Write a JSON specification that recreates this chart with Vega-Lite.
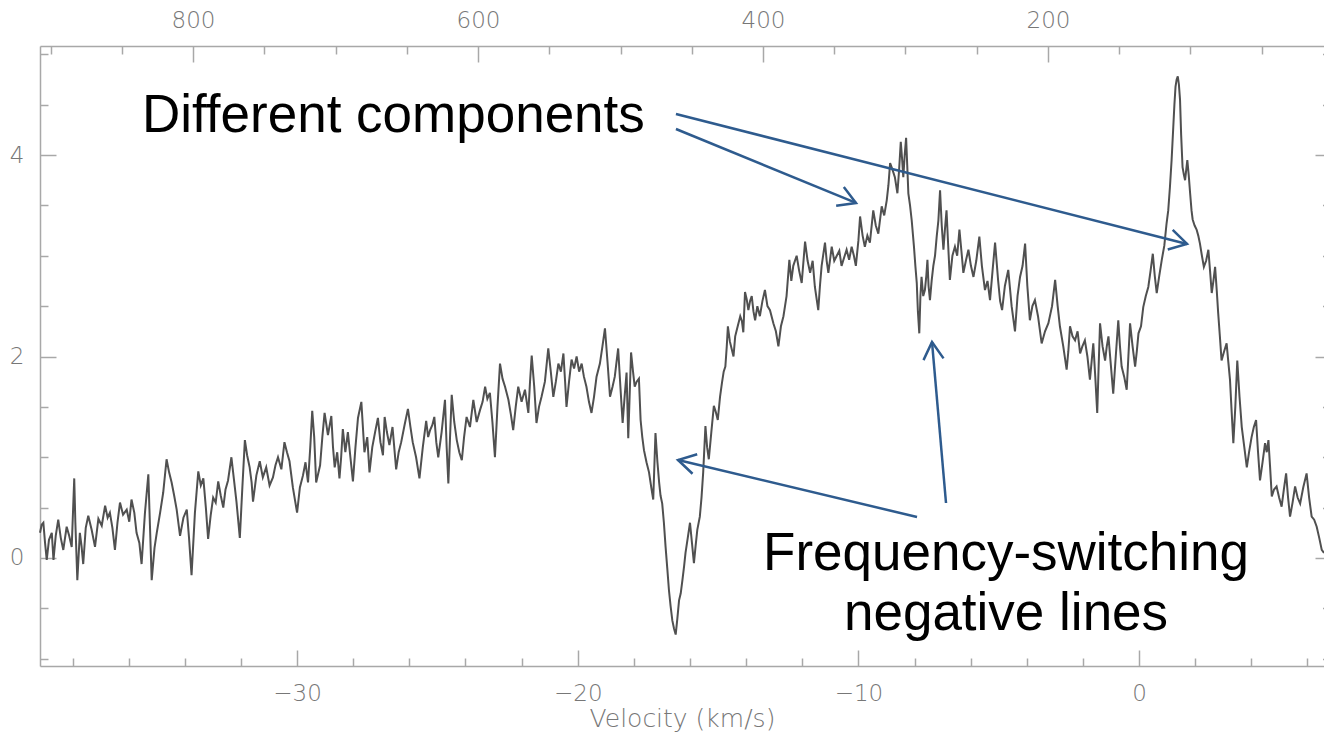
{
  "$schema": "https://vega.github.io/schema/vega-lite/v6.json",
  "width": 1284,
  "height": 620,
  "autosize": {"type": "none"},
  "padding": {"left": 40, "top": 46, "right": 0, "bottom": 68},
  "background": "white",
  "config": {
    "view": {"stroke": null},
    "axis": {
      "grid": false,
      "domainColor": "#a8a8a8",
      "domainWidth": 1.5,
      "tickColor": "#a8a8a8",
      "tickWidth": 1.5,
      "labelFont": "DejaVu Sans",
      "labelFontSize": 23,
      "labelFontWeight": 200,
      "labelColor": "#777777",
      "labelOverlap": false,
      "labelFlush": false,
      "titleFont": "DejaVu Sans",
      "titleFontSize": 25,
      "titleFontWeight": 200,
      "titleColor": "#777777"
    }
  },
  "datasets": {
    "spectrum": [
      {"v":-39.16,"y":0.25},{"v":-39.10,"y":0.33},{"v":-39.04,"y":0.35},{"v":-38.98,"y":0.15},{"v":-38.92,"y":-0.02},{"v":-38.84,"y":0.18},{"v":-38.74,"y":0.25},{"v":-38.68,"y":-0.02},{"v":-38.60,"y":0.22},{"v":-38.51,"y":0.38},{"v":-38.42,"y":0.20},{"v":-38.33,"y":0.08},{"v":-38.21,"y":0.31},{"v":-38.12,"y":0.22},{"v":-38.03,"y":0.11},{"v":-37.94,"y":0.79},{"v":-37.90,"y":0.35},{"v":-37.83,"y":-0.22},{"v":-37.74,"y":0.25},{"v":-37.68,"y":0.12},{"v":-37.62,"y":-0.06},{"v":-37.53,"y":0.30},{"v":-37.44,"y":0.42},{"v":-37.32,"y":0.28},{"v":-37.20,"y":0.11},{"v":-37.08,"y":0.39},{"v":-36.96,"y":0.32},{"v":-36.84,"y":0.52},{"v":-36.75,"y":0.40},{"v":-36.67,"y":0.45},{"v":-36.58,"y":0.30},{"v":-36.49,"y":0.08},{"v":-36.40,"y":0.35},{"v":-36.31,"y":0.55},{"v":-36.20,"y":0.43},{"v":-36.07,"y":0.48},{"v":-35.98,"y":0.36},{"v":-35.90,"y":0.58},{"v":-35.80,"y":0.45},{"v":-35.72,"y":0.25},{"v":-35.62,"y":0.15},{"v":-35.54,"y":-0.06},{"v":-35.42,"y":0.45},{"v":-35.30,"y":0.83},{"v":-35.24,"y":0.30},{"v":-35.18,"y":-0.22},{"v":-35.08,"y":0.10},{"v":-35.00,"y":0.25},{"v":-34.88,"y":0.45},{"v":-34.77,"y":0.65},{"v":-34.65,"y":0.98},{"v":-34.56,"y":0.85},{"v":-34.47,"y":0.75},{"v":-34.38,"y":0.62},{"v":-34.29,"y":0.48},{"v":-34.17,"y":0.22},{"v":-34.05,"y":0.40},{"v":-33.93,"y":0.48},{"v":-33.85,"y":0.20},{"v":-33.76,"y":-0.17},{"v":-33.64,"y":0.45},{"v":-33.52,"y":0.86},{"v":-33.43,"y":0.72},{"v":-33.34,"y":0.79},{"v":-33.25,"y":0.50},{"v":-33.17,"y":0.19},{"v":-33.08,"y":0.42},{"v":-32.99,"y":0.60},{"v":-32.90,"y":0.55},{"v":-32.81,"y":0.76},{"v":-32.72,"y":0.62},{"v":-32.63,"y":0.50},{"v":-32.55,"y":0.68},{"v":-32.46,"y":0.77},{"v":-32.34,"y":1.00},{"v":-32.25,"y":0.78},{"v":-32.16,"y":0.56},{"v":-32.04,"y":0.20},{"v":-31.95,"y":0.70},{"v":-31.86,"y":1.17},{"v":-31.78,"y":1.02},{"v":-31.69,"y":0.90},{"v":-31.62,"y":0.75},{"v":-31.57,"y":0.56},{"v":-31.45,"y":0.82},{"v":-31.33,"y":0.96},{"v":-31.22,"y":0.80},{"v":-31.10,"y":0.90},{"v":-30.98,"y":0.72},{"v":-30.86,"y":0.80},{"v":-30.77,"y":0.92},{"v":-30.68,"y":1.00},{"v":-30.56,"y":0.88},{"v":-30.45,"y":1.15},{"v":-30.36,"y":1.05},{"v":-30.27,"y":0.96},{"v":-30.15,"y":0.70},{"v":-30.00,"y":0.45},{"v":-29.90,"y":0.70},{"v":-29.79,"y":0.82},{"v":-29.70,"y":0.95},{"v":-29.61,"y":0.75},{"v":-29.53,"y":1.10},{"v":-29.46,"y":1.46},{"v":-29.39,"y":1.20},{"v":-29.32,"y":0.75},{"v":-29.18,"y":0.92},{"v":-29.10,"y":1.20},{"v":-29.02,"y":1.44},{"v":-28.90,"y":1.22},{"v":-28.78,"y":1.41},{"v":-28.72,"y":1.10},{"v":-28.66,"y":0.90},{"v":-28.57,"y":1.05},{"v":-28.49,"y":0.79},{"v":-28.43,"y":1.00},{"v":-28.37,"y":1.28},{"v":-28.28,"y":1.05},{"v":-28.19,"y":1.25},{"v":-28.10,"y":1.00},{"v":-28.01,"y":0.76},{"v":-27.92,"y":1.10},{"v":-27.83,"y":1.39},{"v":-27.71,"y":1.55},{"v":-27.60,"y":1.05},{"v":-27.50,"y":1.20},{"v":-27.42,"y":0.85},{"v":-27.32,"y":1.10},{"v":-27.22,"y":1.25},{"v":-27.12,"y":1.39},{"v":-27.03,"y":1.15},{"v":-26.94,"y":1.02},{"v":-26.88,"y":1.40},{"v":-26.80,"y":1.25},{"v":-26.71,"y":1.12},{"v":-26.60,"y":1.30},{"v":-26.47,"y":0.88},{"v":-26.38,"y":1.05},{"v":-26.29,"y":1.15},{"v":-26.17,"y":1.32},{"v":-26.05,"y":1.48},{"v":-25.96,"y":1.30},{"v":-25.88,"y":1.15},{"v":-25.76,"y":1.00},{"v":-25.64,"y":0.79},{"v":-25.52,"y":1.10},{"v":-25.40,"y":1.36},{"v":-25.33,"y":1.20},{"v":-25.26,"y":1.27},{"v":-25.18,"y":1.32},{"v":-25.11,"y":1.40},{"v":-25.04,"y":1.15},
      {"v":-24.97,"y":1.00},{"v":-24.85,"y":1.25},{"v":-24.73,"y":1.57},{"v":-24.67,"y":1.10},{"v":-24.61,"y":0.74},{"v":-24.55,"y":1.20},{"v":-24.49,"y":1.62},{"v":-24.40,"y":1.35},{"v":-24.31,"y":1.17},{"v":-24.22,"y":1.05},{"v":-24.13,"y":0.97},{"v":-24.05,"y":1.20},{"v":-23.96,"y":1.40},{"v":-23.84,"y":1.30},{"v":-23.72,"y":1.57},{"v":-23.60,"y":1.35},{"v":-23.48,"y":1.47},{"v":-23.39,"y":1.55},{"v":-23.30,"y":1.70},{"v":-23.22,"y":1.58},{"v":-23.13,"y":1.64},{"v":-23.04,"y":1.35},{"v":-22.95,"y":1.00},{"v":-22.86,"y":1.50},{"v":-22.77,"y":1.93},{"v":-22.68,"y":1.78},{"v":-22.59,"y":1.70},{"v":-22.47,"y":1.57},{"v":-22.38,"y":1.42},{"v":-22.30,"y":1.27},{"v":-22.21,"y":1.50},{"v":-22.12,"y":1.70},{"v":-22.00,"y":1.55},{"v":-21.88,"y":1.67},{"v":-21.76,"y":1.44},{"v":-21.70,"y":1.75},{"v":-21.64,"y":2.01},{"v":-21.55,"y":1.70},{"v":-21.47,"y":1.34},{"v":-21.38,"y":1.50},{"v":-21.29,"y":1.60},{"v":-21.17,"y":1.75},{"v":-21.05,"y":2.08},{"v":-20.96,"y":1.85},{"v":-20.87,"y":1.60},{"v":-20.78,"y":1.75},{"v":-20.69,"y":1.93},{"v":-20.60,"y":1.85},{"v":-20.51,"y":2.03},{"v":-20.45,"y":1.75},{"v":-20.40,"y":1.50},{"v":-20.31,"y":1.75},{"v":-20.22,"y":1.97},{"v":-20.13,"y":1.88},{"v":-20.04,"y":2.00},{"v":-19.95,"y":1.85},{"v":-19.86,"y":1.93},{"v":-19.78,"y":1.80},{"v":-19.69,"y":1.70},{"v":-19.60,"y":1.55},{"v":-19.51,"y":1.44},{"v":-19.42,"y":1.60},{"v":-19.33,"y":1.80},{"v":-19.21,"y":1.93},{"v":-19.12,"y":2.10},{"v":-19.03,"y":2.28},{"v":-18.94,"y":1.95},{"v":-18.85,"y":1.60},{"v":-18.76,"y":1.70},{"v":-18.68,"y":1.80},{"v":-18.56,"y":2.08},{"v":-18.48,"y":1.70},{"v":-18.40,"y":1.34},{"v":-18.33,"y":1.60},{"v":-18.26,"y":1.84},{"v":-18.20,"y":1.19},{"v":-18.10,"y":2.04},{"v":-18.03,"y":1.85},{"v":-17.97,"y":1.70},{"v":-17.90,"y":1.75},{"v":-17.82,"y":1.78},{"v":-17.76,"y":1.37},{"v":-17.70,"y":1.20},{"v":-17.64,"y":1.07},{"v":-17.55,"y":0.95},{"v":-17.46,"y":0.85},{"v":-17.38,"y":0.70},{"v":-17.31,"y":0.58},{"v":-17.23,"y":1.24},{"v":-17.16,"y":0.95},{"v":-17.10,"y":0.75},{"v":-17.05,"y":0.62},{"v":-16.99,"y":0.54},{"v":-16.93,"y":0.35},{"v":-16.87,"y":0.11},{"v":-16.81,"y":-0.10},{"v":-16.75,"y":-0.32},{"v":-16.69,"y":-0.48},{"v":-16.63,"y":-0.62},{"v":-16.57,"y":-0.70},{"v":-16.51,"y":-0.76},{"v":-16.45,"y":-0.60},{"v":-16.39,"y":-0.42},{"v":-16.33,"y":-0.35},{"v":-16.27,"y":-0.22},{"v":-16.21,"y":-0.08},{"v":-16.16,"y":0.05},{"v":-16.08,"y":0.20},{"v":-16.00,"y":0.35},{"v":-15.93,"y":0.15},{"v":-15.86,"y":-0.05},{"v":-15.80,"y":0.12},{"v":-15.74,"y":0.28},{"v":-15.65,"y":0.41},{"v":-15.59,"y":0.60},{"v":-15.53,"y":0.85},{"v":-15.45,"y":1.31},{"v":-15.39,"y":1.10},{"v":-15.33,"y":0.98},{"v":-15.24,"y":1.25},{"v":-15.15,"y":1.51},{"v":-15.08,"y":1.45},{"v":-15.01,"y":1.37},{"v":-14.93,"y":1.60},{"v":-14.86,"y":1.74},{"v":-14.80,"y":1.85},{"v":-14.74,"y":1.90},{"v":-14.69,"y":2.10},{"v":-14.65,"y":2.30},{"v":-14.58,"y":2.15},{"v":-14.51,"y":2.07},{"v":-14.45,"y":2.00},{"v":-14.39,"y":2.20},{"v":-14.30,"y":2.30},{"v":-14.21,"y":2.40},{"v":-14.15,"y":2.35},{"v":-14.10,"y":2.24},{"v":-14.04,"y":2.64},{"v":-13.98,"y":2.57},
      {"v":-13.92,"y":2.46},{"v":-13.86,"y":2.55},{"v":-13.80,"y":2.60},{"v":-13.74,"y":2.45},{"v":-13.68,"y":2.36},{"v":-13.60,"y":2.50},{"v":-13.51,"y":2.40},{"v":-13.42,"y":2.55},{"v":-13.33,"y":2.66},{"v":-13.24,"y":2.50},{"v":-13.15,"y":2.46},{"v":-13.03,"y":2.33},{"v":-12.94,"y":2.25},{"v":-12.85,"y":2.10},{"v":-12.76,"y":2.30},{"v":-12.67,"y":2.40},{"v":-12.56,"y":2.60},{"v":-12.46,"y":2.96},{"v":-12.39,"y":2.75},{"v":-12.32,"y":2.90},{"v":-12.20,"y":3.00},{"v":-12.11,"y":2.85},{"v":-12.02,"y":2.73},{"v":-11.90,"y":3.14},{"v":-11.81,"y":2.95},{"v":-11.72,"y":2.83},{"v":-11.63,"y":2.95},{"v":-11.55,"y":2.69},{"v":-11.43,"y":2.46},{"v":-11.37,"y":2.70},{"v":-11.31,"y":2.90},{"v":-11.19,"y":3.13},{"v":-11.13,"y":2.95},{"v":-11.07,"y":2.83},{"v":-10.95,"y":3.09},{"v":-10.86,"y":2.95},{"v":-10.77,"y":3.00},{"v":-10.68,"y":3.05},{"v":-10.60,"y":2.90},{"v":-10.51,"y":2.98},{"v":-10.42,"y":3.06},{"v":-10.33,"y":2.96},{"v":-10.24,"y":3.09},{"v":-10.16,"y":3.00},{"v":-10.09,"y":2.90},{"v":-10.00,"y":3.15},{"v":-9.94,"y":3.39},{"v":-9.85,"y":3.20},{"v":-9.77,"y":3.09},{"v":-9.68,"y":3.20},{"v":-9.59,"y":3.13},{"v":-9.47,"y":3.45},{"v":-9.38,"y":3.30},{"v":-9.29,"y":3.22},{"v":-9.17,"y":3.49},{"v":-9.08,"y":3.40},{"v":-8.99,"y":3.55},{"v":-8.93,"y":3.70},{"v":-8.87,"y":3.92},{"v":-8.78,"y":3.85},{"v":-8.70,"y":3.78},{"v":-8.61,"y":3.62},{"v":-8.55,"y":3.85},{"v":-8.49,"y":4.13},{"v":-8.44,"y":3.95},{"v":-8.40,"y":3.78},{"v":-8.35,"y":4.00},{"v":-8.30,"y":4.17},{"v":-8.26,"y":3.90},{"v":-8.22,"y":3.62},{"v":-8.16,"y":3.50},{"v":-8.10,"y":3.35},{"v":-8.02,"y":3.09},{"v":-7.97,"y":2.90},{"v":-7.92,"y":2.73},{"v":-7.88,"y":2.45},{"v":-7.83,"y":2.23},{"v":-7.79,"y":2.60},{"v":-7.75,"y":2.79},{"v":-7.69,"y":2.60},{"v":-7.63,"y":2.66},{"v":-7.58,"y":2.80},{"v":-7.54,"y":2.96},{"v":-7.50,"y":2.70},{"v":-7.45,"y":2.56},{"v":-7.39,"y":2.75},{"v":-7.33,"y":2.90},{"v":-7.27,"y":3.00},{"v":-7.21,"y":3.19},{"v":-7.15,"y":3.35},{"v":-7.09,"y":3.65},{"v":-7.03,"y":3.30},{"v":-6.97,"y":3.06},{"v":-6.92,"y":3.25},{"v":-6.86,"y":3.45},{"v":-6.80,"y":3.10},{"v":-6.74,"y":2.76},{"v":-6.65,"y":3.00},{"v":-6.56,"y":3.09},{"v":-6.48,"y":3.00},{"v":-6.40,"y":3.26},{"v":-6.33,"y":3.05},{"v":-6.26,"y":2.83},{"v":-6.17,"y":2.95},{"v":-6.08,"y":3.06},{"v":-5.99,"y":2.90},{"v":-5.90,"y":2.79},{"v":-5.80,"y":2.95},{"v":-5.69,"y":3.19},{"v":-5.60,"y":2.90},{"v":-5.49,"y":2.66},{"v":-5.40,"y":2.75},{"v":-5.31,"y":2.56},{"v":-5.22,"y":2.85},{"v":-5.13,"y":3.13},{"v":-5.02,"y":2.75},{"v":-4.95,"y":2.55},{"v":-4.88,"y":2.46},{"v":-4.78,"y":2.70},{"v":-4.66,"y":2.86},{"v":-4.54,"y":2.50},{"v":-4.42,"y":2.25},{"v":-4.33,"y":2.60},{"v":-4.24,"y":2.79},{"v":-4.15,"y":2.90},{"v":-4.06,"y":3.12},{"v":-3.98,"y":2.70},{"v":-3.89,"y":2.36},{"v":-3.80,"y":2.50},{"v":-3.71,"y":2.56},{"v":-3.60,"y":2.40},{"v":-3.47,"y":2.13},{"v":-3.35,"y":2.25},{"v":-3.23,"y":2.33},{"v":-3.10,"y":2.50},{"v":-2.99,"y":2.76},{"v":-2.90,"y":2.50},{"v":-2.82,"y":2.30},{"v":-2.70,"y":2.10},{"v":-2.58,"y":1.87},{"v":-2.52,"y":2.05},{"v":-2.46,"y":2.30},{"v":-2.37,"y":2.20},{"v":-2.28,"y":2.16},{"v":-2.19,"y":2.25},{"v":-2.10,"y":2.03},{"v":-2.02,"y":2.10},{"v":-1.93,"y":2.16},{"v":-1.84,"y":2.00},{"v":-1.75,"y":1.77},{"v":-1.69,"y":1.95},{"v":-1.63,"y":2.13},{"v":-1.56,"y":1.80},{"v":-1.49,"y":1.44},{"v":-1.44,"y":1.90},{"v":-1.39,"y":2.33},{"v":-1.30,"y":2.10},{"v":-1.21,"y":1.96},{"v":-1.15,"y":2.10},{"v":-1.09,"y":2.20},{"v":-1.00,"y":1.90},{"v":-0.92,"y":1.63},{"v":-0.83,"y":2.00},{"v":-0.74,"y":2.36},{"v":-0.68,"y":2.10},{"v":-0.62,"y":1.90},{"v":-0.53,"y":1.80},{"v":-0.44,"y":1.67},{"v":-0.38,"y":2.00},{"v":-0.32,"y":2.33},{"v":-0.23,"y":2.10},{"v":-0.14,"y":1.90},{"v":-0.08,"y":2.05},{"v":-0.02,"y":2.23},{"v":0.07,"y":2.30},{"v":0.15,"y":2.49},{"v":0.24,"y":2.60},{"v":0.33,"y":2.69},{"v":0.41,"y":2.85},{"v":0.49,"y":3.02},{"v":0.56,"y":2.80},{"v":0.63,"y":2.63},{"v":0.72,"y":2.80},{"v":0.81,"y":2.96},{"v":0.90,"y":3.10},{"v":0.98,"y":3.32},{"v":1.04,"y":3.45},{"v":1.10,"y":3.68},{"v":1.16,"y":3.95},{"v":1.22,"y":4.28},{"v":1.26,"y":4.50},{"v":1.30,"y":4.68},{"v":1.34,"y":4.75},{"v":1.38,"y":4.78},{"v":1.42,"y":4.70},{"v":1.46,"y":4.55},{"v":1.50,"y":4.20},{"v":1.55,"y":3.88},{"v":1.60,"y":3.80},{"v":1.64,"y":3.75},{"v":1.68,"y":3.85},{"v":1.72,"y":3.95},{"v":1.77,"y":3.80},{"v":1.82,"y":3.62},{"v":1.87,"y":3.45},{"v":1.91,"y":3.36},{"v":1.98,"y":3.30},{"v":2.05,"y":3.26},{"v":2.11,"y":3.20},{"v":2.17,"y":3.12},{"v":2.24,"y":3.00},{"v":2.31,"y":2.89},{"v":2.39,"y":2.95},{"v":2.47,"y":3.06},{"v":2.53,"y":2.85},{"v":2.59,"y":2.63},{"v":2.65,"y":2.75},{"v":2.71,"y":2.89},{"v":2.77,"y":2.65},{"v":2.82,"y":2.43},{"v":2.88,"y":2.20},{"v":2.94,"y":1.96},{"v":3.03,"y":2.05},{"v":3.12,"y":2.13},{"v":3.18,"y":1.95},{"v":3.24,"y":1.77},{"v":3.30,"y":1.45},{"v":3.36,"y":1.14},{"v":3.43,"y":1.50},{"v":3.50,"y":1.96},{"v":3.58,"y":1.60},{"v":3.66,"y":1.30},{"v":3.75,"y":1.10},{"v":3.84,"y":0.90},{"v":3.92,"y":1.05},{"v":4.01,"y":1.20},{"v":4.09,"y":1.30},{"v":4.17,"y":1.37},{"v":4.24,"y":1.05},{"v":4.31,"y":0.77},{"v":4.40,"y":0.95},{"v":4.49,"y":1.14},{"v":4.55,"y":1.05},{"v":4.61,"y":1.17},{"v":4.67,"y":0.90},{"v":4.73,"y":0.61},{"v":4.81,"y":0.68},{"v":4.90,"y":0.71},{"v":4.99,"y":0.60},{"v":5.08,"y":0.51},{"v":5.16,"y":0.68},{"v":5.24,"y":0.84},{"v":5.31,"y":0.60},{"v":5.38,"y":0.41},{"v":5.47,"y":0.55},{"v":5.56,"y":0.71},{"v":5.65,"y":0.60},{"v":5.74,"y":0.54},{"v":5.85,"y":0.70},{"v":5.97,"y":0.84},{"v":6.06,"y":0.60},{"v":6.15,"y":0.41},{"v":6.24,"y":0.38},{"v":6.33,"y":0.31},{"v":6.42,"y":0.20},{"v":6.51,"y":0.08},{"v":6.59,"y":0.05}
    ],
    "arrows": [
      {"id": "a", "v": -16.50, "y": 4.258, "v2": -10.085, "y2": 3.524},
      {"id": "b", "v": -16.50, "y": 4.407, "v2": 1.709, "y2": 3.117},
      {"id": "c", "v": -7.911, "y": 0.407, "v2": -16.427, "y2": 0.973},
      {"id": "d", "v": -6.878, "y": 0.546, "v2": -7.377, "y2": 2.144}
    ],
    "notes": [
      {"v": -35.525, "y": 4.228, "text": "Different components"}
    ],
    "notes2": [
      {"v": -4.74, "y": -0.119, "text": ["Frequency-switching", "negative lines"]}
    ],
    "frame": [
      {"ch": 500, "y": 2}
    ]
  },
  "layer": [
    {
      "layer": [
        {
          "data": {"name": "spectrum"},
          "mark": {"type": "line", "color": "#505050", "strokeWidth": 2, "interpolate": "linear"},
          "encoding": {
            "x": {
              "field": "v", "type": "quantitative",
              "scale": {"domain": [-39.16, 6.59], "nice": false, "zero": false},
              "axis": {
                "orient": "bottom",
                "title": "Velocity (km/s)",
                "values": [-38, -36, -34, -32, -30, -28, -26, -24, -22, -20, -18, -16, -14, -12, -10, -8, -6, -4, -2, 0, 2, 4, 6],
                "tickSize": {"condition": {"test": "datum.value % 10 === 0", "value": -16}, "value": -8},
                "labelExpr": "datum.value % 10 === 0 ? datum.label : ''",
                "labelPadding": 43,
                "labelBaseline": "middle",
                "titleY": 52,
                "titleBaseline": "middle"
              }
            },
            "y": {
              "field": "y", "type": "quantitative",
              "scale": {"domain": [-1.072, 5.082], "nice": false, "zero": false},
              "axis": {
                "orient": "left",
                "title": null,
                "values": [-1, -0.5, 0, 0.5, 1, 1.5, 2, 2.5, 3, 3.5, 4, 4.5, 5],
                "tickSize": {"condition": {"test": "datum.value % 2 === 0", "value": -16}, "value": -8},
                "labelExpr": "datum.value % 2 === 0 ? format(datum.value, 'd') : ''",
                "labelPadding": 32,
                "labelBaseline": "middle"
              }
            }
          }
        },
        {
          "data": {"name": "arrows"},
          "mark": {"type": "rule", "color": "#2E5B8E", "strokeWidth": 2.5},
          "encoding": {
            "x": {"field": "v", "type": "quantitative"},
            "y": {"field": "y", "type": "quantitative"},
            "x2": {"field": "v2"},
            "y2": {"field": "y2"}
          }
        },
        {
          "data": {"name": "arrows"},
          "transform": [{"filter": "datum.id === 'a'"}],
          "mark": {"type": "point", "shape": "M-1,-0.58L0,0L-1,0.58", "size": 1200, "filled": false, "stroke": "#2E5B8E", "strokeWidth": 2.5, "opacity": 1, "angle": 22.35},
          "encoding": {"x": {"field": "v2", "type": "quantitative"}, "y": {"field": "y2", "type": "quantitative"}}
        },
        {
          "data": {"name": "arrows"},
          "transform": [{"filter": "datum.id === 'b'"}],
          "mark": {"type": "point", "shape": "M-1,-0.58L0,0L-1,0.58", "size": 1200, "filled": false, "stroke": "#2E5B8E", "strokeWidth": 2.5, "opacity": 1, "angle": 14.27},
          "encoding": {"x": {"field": "v2", "type": "quantitative"}, "y": {"field": "y2", "type": "quantitative"}}
        },
        {
          "data": {"name": "arrows"},
          "transform": [{"filter": "datum.id === 'c'"}],
          "mark": {"type": "point", "shape": "M-1,-0.58L0,0L-1,0.58", "size": 1200, "filled": false, "stroke": "#2E5B8E", "strokeWidth": 2.5, "opacity": 1, "angle": 193.41},
          "encoding": {"x": {"field": "v2", "type": "quantitative"}, "y": {"field": "y2", "type": "quantitative"}}
        },
        {
          "data": {"name": "arrows"},
          "transform": [{"filter": "datum.id === 'd'"}],
          "mark": {"type": "point", "shape": "M-1,-0.58L0,0L-1,0.58", "size": 1200, "filled": false, "stroke": "#2E5B8E", "strokeWidth": 2.5, "opacity": 1, "angle": 265.03},
          "encoding": {"x": {"field": "v2", "type": "quantitative"}, "y": {"field": "y2", "type": "quantitative"}}
        },
        {
          "data": {"name": "notes"},
          "mark": {"type": "text", "font": "Liberation Sans", "fontSize": 53, "color": "#000000", "align": "left", "baseline": "alphabetic"},
          "encoding": {
            "x": {"field": "v", "type": "quantitative"},
            "y": {"field": "y", "type": "quantitative"},
            "text": {"field": "text", "type": "nominal"}
          }
        },
        {
          "data": {"name": "notes2"},
          "mark": {"type": "text", "font": "Liberation Sans", "fontSize": 53, "color": "#000000", "align": "center", "baseline": "alphabetic", "lineHeight": 60},
          "encoding": {
            "x": {"field": "v", "type": "quantitative"},
            "y": {"field": "y", "type": "quantitative"},
            "text": {"field": "text", "type": "nominal"}
          }
        }
      ]
    },
    {
      "data": {"name": "frame"},
      "mark": {"type": "point", "opacity": 0},
      "encoding": {
        "x": {
          "field": "ch", "type": "quantitative",
          "scale": {"domain": [6.3, 907.4], "reverse": true, "nice": false, "zero": false},
          "axis": {
            "orient": "top",
            "title": null,
            "values": [900, 850, 800, 750, 700, 650, 600, 550, 500, 450, 400, 350, 300, 250, 200, 150, 100, 50],
            "tickSize": {"condition": {"test": "datum.value % 200 === 0", "value": -16}, "value": -8},
            "labelExpr": "datum.value % 200 === 0 ? datum.label : ''",
            "labelPadding": 42,
            "labelBaseline": "middle"
          }
        },
        "y": {
          "field": "y", "type": "quantitative",
          "axis": {
            "orient": "right",
            "title": null,
            "domain": false,
            "labels": false,
            "values": [-1, -0.5, 0, 0.5, 1, 1.5, 2, 2.5, 3, 3.5, 4, 4.5, 5],
            "tickSize": {"condition": {"test": "datum.value % 2 === 0", "value": -9}, "value": -1.5}
          }
        }
      }
    }
  ],
  "resolve": {
    "scale": {"x": "independent"},
    "axis": {"x": "independent", "y": "independent"}
  }
}
